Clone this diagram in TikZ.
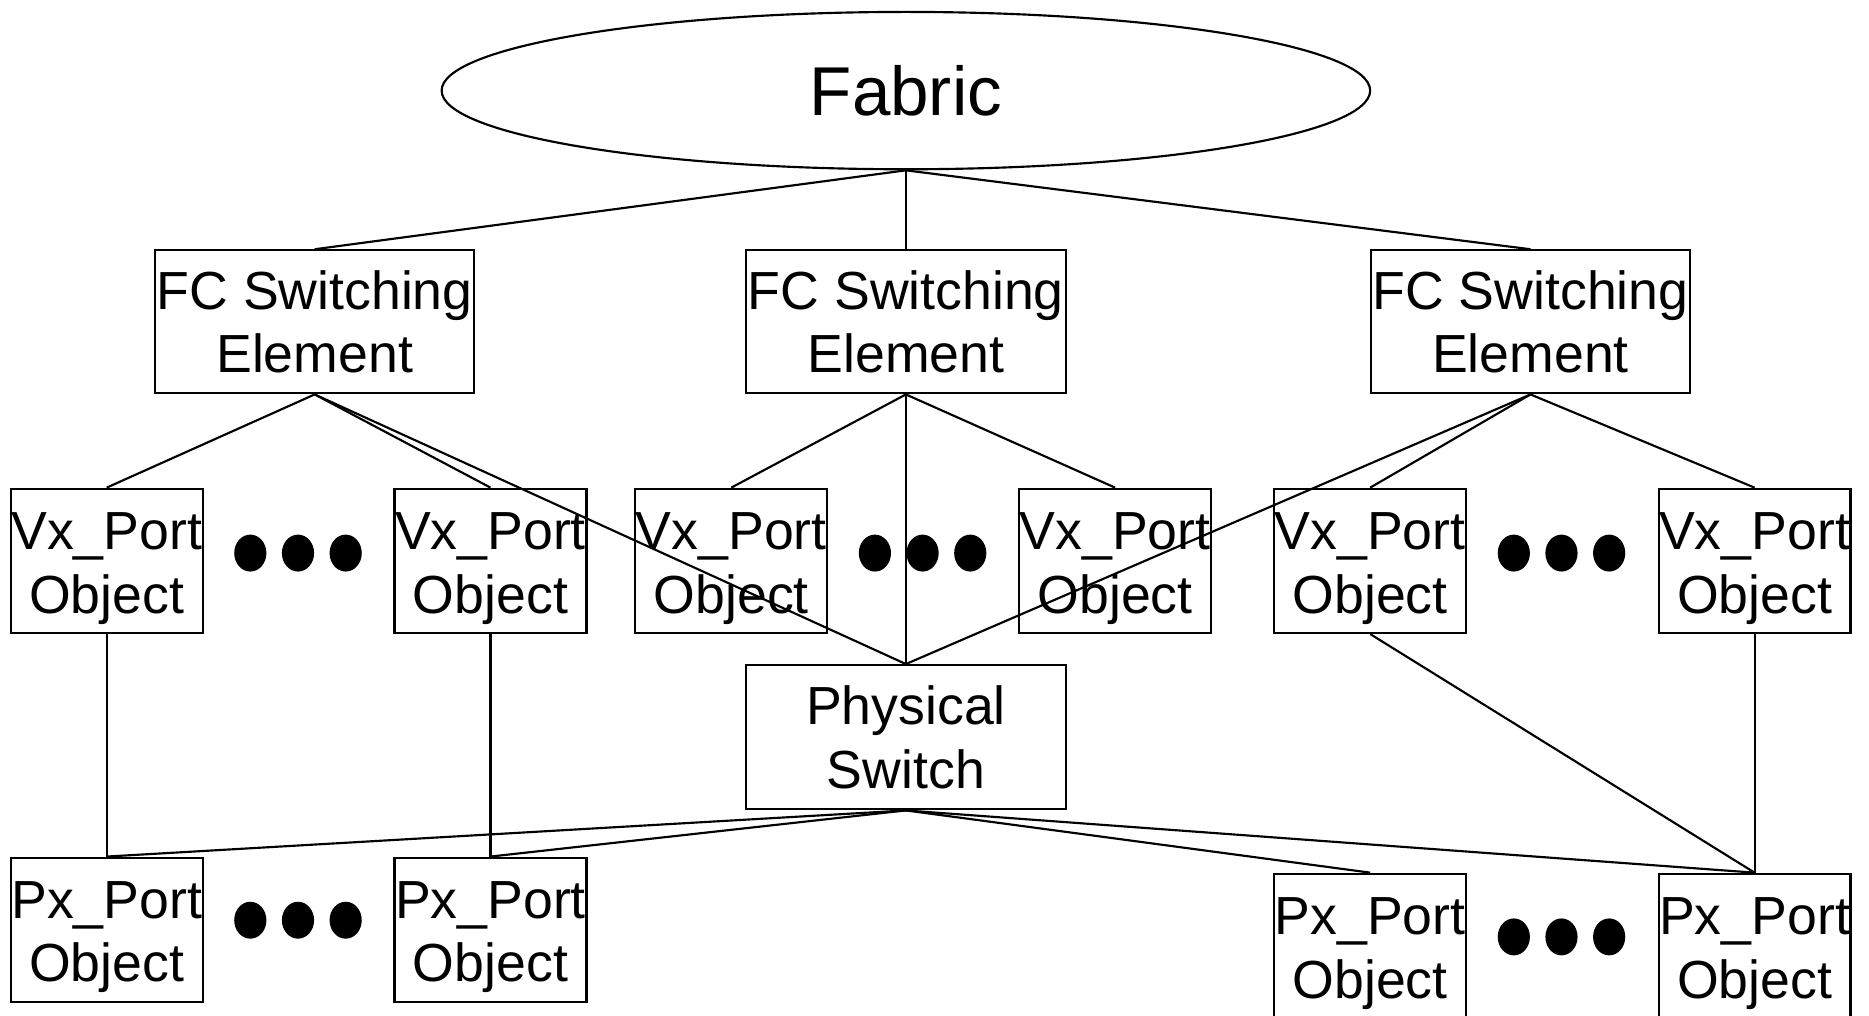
\documentclass[tikz,border=0pt]{standalone}
\usepackage{fontspec}
\setmainfont{Liberation Sans}
\usetikzlibrary{shapes.geometric}
\tikzset{
  box/.style={draw, line width=1.8pt, inner sep=0pt, align=center, font=\fontsize{45}{53}\selectfont},
  fcbox/.style={box, minimum width=268pt, minimum height=120pt},
  portlabel/.style={inner sep=0pt, align=center, font=\fontsize{45}{53}\selectfont, yshift=-6.5pt},
  portbox/.style={draw, line width=1.8pt, inner sep=0pt, minimum width=161pt, minimum height=121pt,
                  label={[portlabel]center:#1}},
  dotmark/.style={ellipse, fill=black, inner sep=0pt, minimum width=27pt, minimum height=31pt},
  link/.style={line width=1.8pt}
}
\begin{document}
\begin{tikzpicture}[x=1pt,y=-1pt]
\useasboundingbox (0,0) rectangle (1568,852);
% Fabric
\node[draw, ellipse, line width=1.8pt, inner sep=0pt, minimum width=779pt, minimum height=132pt,
      font=\fontsize{58}{66}\selectfont] (fab) at (760,76) {Fabric};
% FC switching elements
\node[fcbox] (fc1) at (264,270) {FC Switching\\Element};
\node[fcbox] (fc2) at (760,270) {FC Switching\\Element};
\node[fcbox] (fc3) at (1284,270) {FC Switching\\Element};
% Vx ports
\node[portbox={Vx\_Port\\Object}] (vx1) at (89.5,470.5) {};
\node[portbox={Vx\_Port\\Object}] (vx2) at (411.5,470.5) {};
\node[portbox={Vx\_Port\\Object}] (vx3) at (613.5,470.5) {};
\node[portbox={Vx\_Port\\Object}] (vx4) at (935.5,470.5) {};
\node[portbox={Vx\_Port\\Object}] (vx5) at (1149.5,470.5) {};
\node[portbox={Vx\_Port\\Object}] (vx6) at (1472,470.5) {};
% Physical switch
\node[box, minimum width=268pt, minimum height=121pt] (ps) at (760,618.5) {Physical\\Switch};
% Px ports
\node[portbox={Px\_Port\\Object}] (px1) at (89.5,780) {};
\node[portbox={Px\_Port\\Object}] (px2) at (411.5,780) {};
\node[portbox={Px\_Port\\Object}] (px3) at (1149.5,793.5) {};
\node[portbox={Px\_Port\\Object}] (px4) at (1472,793.5) {};
% ellipsis dots
\node[dotmark] (da1) at (210,464) {};
\node[dotmark] (da2) at (250,464) {};
\node[dotmark] (da3) at (290,464) {};
\node[dotmark] (db1) at (734,464) {};
\node[dotmark] (db2) at (774,464) {};
\node[dotmark] (db3) at (814,464) {};
\node[dotmark] (dc1) at (1270,464) {};
\node[dotmark] (dc2) at (1310,464) {};
\node[dotmark] (dc3) at (1350,464) {};
\node[dotmark] (dd1) at (210,772) {};
\node[dotmark] (dd2) at (250,772) {};
\node[dotmark] (dd3) at (290,772) {};
\node[dotmark] (de1) at (1270,786) {};
\node[dotmark] (de2) at (1310,786) {};
\node[dotmark] (de3) at (1350,786) {};
% connectors
\draw[link] (fab.south) -- (fc1.north);
\draw[link] (fab.south) -- (fc2.north);
\draw[link] (fab.south) -- (fc3.north);
\draw[link] (fc1.south) -- (vx1.north);
\draw[link] (fc1.south) -- (vx2.north);
\draw[link] (fc1.south) -- (ps.north);
\draw[link] (fc2.south) -- (vx3.north);
\draw[link] (fc2.south) -- (vx4.north);
\draw[link] (fc2.south) -- (ps.north);
\draw[link] (fc3.south) -- (vx5.north);
\draw[link] (fc3.south) -- (vx6.north);
\draw[link] (fc3.south) -- (ps.north);
\draw[link] (vx1.south) -- (px1.north);
\draw[link] (vx2.south) -- (px2.north);
\draw[link] (vx5.south) -- (px4.north);
\draw[link] (vx6.south) -- (px4.north);
\draw[link] (ps.south) -- (px1.north);
\draw[link] (ps.south) -- (px2.north);
\draw[link] (ps.south) -- (px3.north);
\draw[link] (ps.south) -- (px4.north);
\end{tikzpicture}
\end{document}
